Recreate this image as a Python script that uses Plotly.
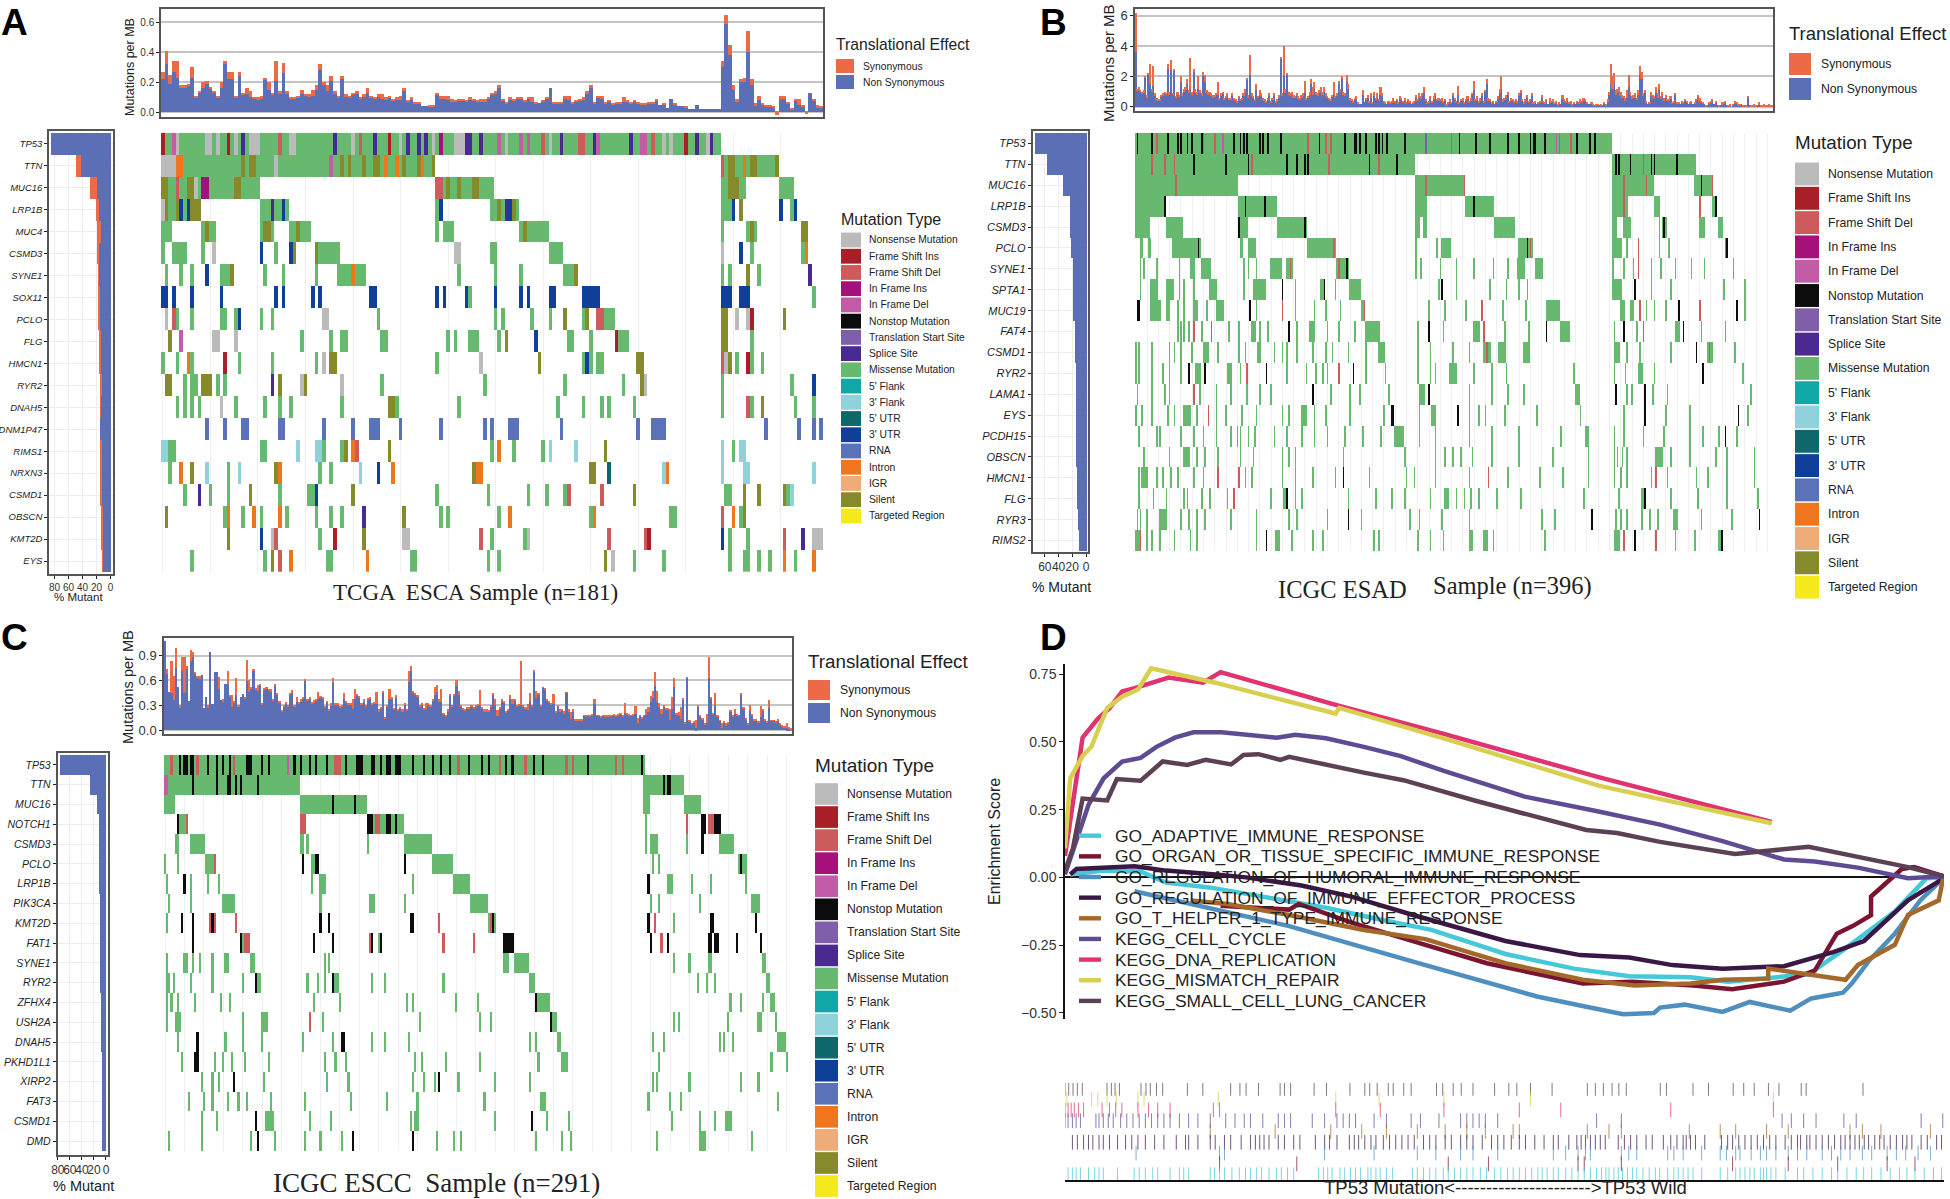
import re
import plotly.graph_objects as go

W, H = 1950, 1199
TYPES = ["Nonsense Mutation","Frame Shift Ins","Frame Shift Del","In Frame Ins","In Frame Del","Nonstop Mutation",
         "Translation Start Site","Splice Site","Missense Mutation","5' Flank","3' Flank","5' UTR","3' UTR","RNA",
         "Intron","IGR","Silent","Targeted Region"]
TYPE_CODES = "nidIDstpmfhwUrogST"
TYPE_COLORS = ["#BBBBBB","#A81F27","#CE5B5B","#A5107A","#C25CA6","#0C0C0C","#7F5FA9","#4A2A90","#67B96F","#12A7A7",
               "#8FD2DC","#0E676B","#0F3F99","#5A72B8","#F0761E","#EFAC78","#878A2B","#F6EA1E"]
BLUE, ORANGE = "#5B6FB6", "#EC6A45"

# ---------- Panel A ----------
A_TOTAL = [27,41,25,34,34,18,18,19,30,11,14,20,21,17,14,11,20,34,27,27,
 11,27,13,16,14,10,10,11,23,20,13,34,14,33,14,10,10,11,15,12,
 12,15,18,32,20,18,24,14,11,24,12,11,13,14,10,12,16,11,10,12,
 12,10,11,9,10,11,16,8,10,7,7,4,4,5,5,13,11,11,11,9,
 8,9,9,8,10,9,8,9,9,10,13,14,18,9,7,10,9,10,10,8,
 10,10,7,6,8,10,16,7,7,7,11,11,7,8,9,10,14,18,7,11,
 11,7,8,6,7,7,10,8,7,8,7,6,6,7,7,9,5,6,3,9,
 6,4,4,4,2,2,5,2,2,2,2,2,2,
 34,65,45,18,9,22,23,54,22,6,11,6,5,5,4,1,11,11,7,3,9,9,5,1,13,9,5,4]
A_SYN = [5,9,6,7,11,2,2,1,7,1,1,4,2,1,1,1,4,2,5,5,
 1,3,1,4,4,1,2,2,1,5,1,13,2,7,2,1,1,1,3,1,
 2,4,3,4,2,4,3,2,1,2,2,1,1,2,1,2,3,1,1,2,
 3,2,1,1,2,3,2,1,2,1,1,0,0,1,1,1,2,2,3,2,
 1,1,1,1,2,1,1,2,2,1,1,2,2,1,1,2,1,1,1,1,
 1,3,1,0,1,1,0,1,1,1,2,3,1,1,1,2,2,2,1,1,
 2,1,1,1,1,1,3,1,1,1,1,1,1,1,1,1,0,1,0,0,
 1,0,0,1,0,0,0,0,0,0,0,0,0,
 4,6,7,3,2,2,3,14,4,2,3,1,1,1,1,3,2,2,1,1,1,4,1,2,0,1,2,1]
A_GENES = ["TP53","TTN","MUC16","LRP1B","MUC4","CSMD3","SYNE1","SOX11","PCLO","FLG","HMCN1","RYR2","DNAH5","DNM1P47",
           "RIMS1","NRXN3","CSMD1","OBSCN","KMT2D","EYS"]
A_PCT = [85,50,29,21,20,19,18,17,17,16,16,15,15,15,14,14,14,13,13,12]
A_PCT_SYN = [0,8,10,5,6,2,1,1,1,1,1,2,1,0,1,1,1,1,1,1]
A_ROWS = [
 "0-152m 0i 3D 4n 12-13n 15n 18i 20n 22p 24-25n 26n 32d 35n 36n 47p 52n 54d 58p 62i 65n 67p 70p 72p 74n 76I 80-82n 83-84p 87p 92D 94n 98D 100D 104d 106n 109p 114-115d 118p 119D 128p 131-132D 134d 137n 139n 143i 146p 149n 150p",
 "0-74m 0-3n 4-5o 22S 24S 25S 31n 46D 49S 51S 55S 58-59S 61o 64o 66S 70S 71o 74S 153-168m 153d 155-156S 159o 161-162S 168S",
 "0-26m 0-1S 4d 7-8S 9n 11-12I 20-21S 75-90m 75-76d 78S 81S 85-86S 153-159m 155-157S 169-172m",
 "0n 1S 2-3m 4S 5U 6m 7U 8-10S 27-34m 30p 33U 75m 76U 90-97m 92S 94p 95U 96S 153-156m 156U 158S 169U 172m 173U",
 "0-2m 11-14m 12S 27-30m 28-29S 35-40m 37S 75m 77-79m 98-105m 99S 153m 160-162m 161S 175-176S",
 "0m 3-6m 11m 14n 27U 31m 35U 36S 42-48m 42S 80-81n 90-91m 106-109m 153n 158U 161m 175m 176o",
 "1m 5m 8m 12U 16-19m 19S 28m 33m 42m 48-55m 52o 81m 91m 98m 110-113m 113S 153m 155m 160S 163m 177p",
 "0-1U 3U 8U 16U 31U 33U 41U 43U 57-58U 75U 77U 83U 84m 91U 98U 100U 106-107U 115-119U 153-155U 158-160U 178m",
 "1n 3d 4m 8m 16-17m 20m 21U 27m 30m 44-45n 59m 91m 93m 101m 106m 110S 115m 116S 119-120d 121-123m 153-154S 157n 160n 161i 170S",
 "2S 5D 14-15n 20n 38m 46m 49-50m 60-61m 78m 80m 84-86m 92m 94S 102U 111-112m 117m 124i 125-127m 153-154S 161m",
 "0m 4m 7o 8m 17i 21m 30m 42m 44n 46-47S 75m 87n 103S 115m 116U 117m 119-120m 130-131S 153d 154n 155S 157m 160i 161m 164m",
 "1-2S 6m 8m 9m 11-13S 15m 17m 30p 32S 38n 39S 49n 60m 88m 110m 126m 131S 132n 153m 172m 178U",
 "4m 6m 8m 10m 16n 20m 28m 32m 35m 49m 62-63S 64m 81m 108m 115m 120m 122m 129m 153m 160d 161m 164S 173m 178m",
 "12r 17r 22-23r 32-33r 44r 52r 57-59r 65r 76r 88r 90r 95-97r 109r 130r 134-137r 165r 174r 178r 180r",
 "0-1h 2-3m 27-28m 37h 42-43h 44m 49m 50S 52o 53d 62S 90m 92o 96m 104m 106h 113h 121S 153h 156m 158-159h",
 "2m 5o 8S 12h 18m 21h 31S 32o 43m 46m 54h 59U 63o 85S 86-87o 117-118S 122w 137h 138o 153h 159-160h 178h",
 "6m 10p 13m 18m 24S 32m 40m 42U 41m 52S 75m 89m 100m 105m 110m 111d 120d 129S 154-155m 159S 163S 170S 171m 172h",
 "1S 18o 17m 22m 25o 27m 32o 34m 42m 46m 49m 55p 66S 76m 78m 92m 95o 117m 118o 139-140m 153d 156o 158m 159S",
 "18S 27U 30n 31d 43m 47i 55S 66-67n 87d 90m 99m 100n 122d 132d 133i 153U 155m 160m 170d 175p 178-180n",
 "8m 28m 30S 32d 35o 45-46m 56o 68-69m 89m 92m 121S 123n 129m 137m 155m 159-160m 163m 166m 170o 173m 178o",
]

# ---------- Panel B ----------
B_TOTAL = [62,12,13,11,10,11,20,8,22,28,12,27,9,6,5,5,8,9,10,9,
 28,10,31,9,25,7,10,8,20,9,12,13,18,11,32,10,25,12,10,20,
 11,9,23,21,11,10,10,9,8,8,9,16,6,9,10,6,7,9,6,6,
 9,6,5,4,7,5,6,9,12,19,8,34,9,7,5,15,7,11,9,6,
 5,4,6,9,4,6,9,4,5,8,33,9,40,12,22,10,9,10,8,7,
 9,7,6,8,9,17,6,7,10,18,13,16,10,9,11,13,10,13,9,7,
 6,5,8,16,7,9,17,12,20,10,9,21,15,6,5,4,6,7,3,2,
 2,11,3,6,8,4,9,3,10,6,9,5,13,9,4,3,2,4,3,4,
 6,4,5,3,7,6,4,6,3,5,4,2,3,4,8,5,9,7,9,13,
 5,3,4,7,4,7,9,5,6,5,6,4,5,2,3,5,3,9,6,4,
 14,3,5,6,3,5,7,4,6,9,17,5,7,4,6,9,4,11,18,6,
 5,3,4,2,4,7,12,20,5,6,8,10,4,6,5,4,5,4,9,11,
 5,3,5,8,4,5,9,3,4,2,3,4,8,4,3,5,2,6,4,5,
 3,4,2,3,2,8,5,4,6,3,4,2,3,2,4,3,5,4,6,5,
 3,2,2,3,2,1,2,2,1,2,1,3,2,5,10,28,20,22,11,12,
 13,10,8,7,6,11,21,10,7,8,9,6,11,27,23,9,11,4,2,3,
 10,8,7,13,9,15,7,10,6,8,5,5,7,3,4,9,3,3,2,4,
 3,5,4,2,3,4,2,3,5,8,6,4,3,2,1,1,3,4,5,2,
 4,1,1,1,3,3,4,1,1,2,0,2,4,3,2,2,2,1,1,1,
 7,1,1,1,2,1,1,3,1,1,2,1,1,2,1,1]
B_SYN = [26,1,2,1,1,2,1,2,1,13,2,13,2,1,1,1,1,2,1,1,
 3,2,7,1,1,1,2,1,4,2,2,2,3,2,20,2,2,3,2,8,
 2,2,3,5,2,2,1,2,2,1,1,8,1,2,1,1,1,2,1,1,
 2,1,1,1,1,1,1,2,3,1,2,13,2,1,1,4,1,3,2,1,
 1,1,1,2,1,1,2,1,1,2,1,2,20,3,1,2,2,2,2,1,
 2,2,1,2,2,8,1,1,2,3,5,4,2,2,2,3,2,3,2,1,
 1,1,1,8,1,2,2,2,2,2,2,5,3,1,1,1,1,2,1,0,
 0,3,0,1,2,1,3,1,3,1,3,1,5,2,1,1,0,1,1,1,
 2,1,1,1,2,1,1,2,1,1,1,0,1,1,2,1,3,2,2,4,
 1,1,1,2,1,2,2,1,1,1,2,1,1,1,1,2,1,2,1,1,
 6,1,1,2,1,1,2,1,2,1,6,1,2,1,2,2,1,1,3,2,
 1,1,1,0,1,2,3,8,2,1,2,2,1,2,1,1,1,1,2,2,
 1,1,2,2,1,1,2,1,1,0,1,1,2,1,1,2,0,3,1,2,
 1,2,1,1,0,3,2,1,2,1,2,1,1,0,1,1,2,1,2,1,
 1,0,0,1,1,0,1,1,0,1,0,1,1,2,2,13,8,6,3,3,
 3,3,2,1,2,5,8,2,2,2,3,1,3,6,5,2,2,1,0,1,
 3,2,2,4,3,4,2,3,2,2,1,1,2,1,1,1,1,1,0,1,
 1,1,1,0,1,1,0,1,1,1,2,1,1,0,1,0,1,1,1,0,
 1,0,1,0,2,1,1,0,1,1,0,1,1,1,1,1,0,1,0,1,
 1,0,1,1,1,1,0,2,1,1,2,1,1,2,1,1]
B_GENES = ["TP53","TTN","MUC16","LRP1B","CSMD3","PCLO","SYNE1","SPTA1","MUC19","FAT4","CSMD1","RYR2","LAMA1","EYS",
           "PCDH15","OBSCN","HMCN1","FLG","RYR3","RIMS2"]
B_PCT = [75,57,34,24,24,22,19,19,19,17,17,16,16,15,15,15,14,14,13,11]
B_PCT_SYN = [0,0,0,0,0,0,0,0,0,0,0,0,0,0,0,0,0,0,0,0]
B_ROWS = [
 "0-295m 1s 10s 13d 20s 26s 28s 32s 35s 41s 42d 49d 54D 61s 65s 67s 69s 77s 79s 82s 90s 107d 114s 118d 121d 130s 136-137s 139s 143s 149s 151s 153s 156s 167s 180t 196d 201s 211s 220s 231s 238s 245s 247-248s 254s 261D 263d 270d 274s 282s 285s",
 "0-173m 10d 18d 24d 36s 56s 70s 72d 94s 100s 105s 107s 120d 145s 151d 162s 296-347m 298s 300s 307s 315d 320s 322s 336s",
 "0-63m 25d 174-204m 180d 204d 296-321m 303d 317d 347-358m 351s 358d",
 "0-18m 18s 64-87m 68s 80s 174-180m 205-222m 210s 296-305m 303d 322-325m 350d 358-360m 360s",
 "0-8m 19-29m 64-69m 64s 88-106m 105s 174-176m 179-180m 223-235m 296-298m 303-307m 325m 327-329m 328s 350-353m 362-364m",
 "3-4m 8-9m 23-29m 30-40m 39s 65-66m 70-74m 107-124m 123d 174m 187m 190-195m 238-246m 243s 245d 296-301m 305m 312d 325m 331m 367s 366d",
 "3 5 13 27 34-36 41-46 67 70 75 84-90 94-97 96d 125-132 126d 131s 174 177 189 199 210 222 231 237-241 248-252 296 303 309 312d 320 326 335 345 353 371",
 "3 9-13 19-23 27 30 36 46-50 67 73-80 91s 99 115-117 117s 124 133-139 188 190s 199 220 230 238 243 296-301 310s 320 332 365 378",
 "1-2s 9-15 19-21 26 30 36-38 44 50-54 71s 75 91d 99 111 118 127 140-142 142d 182 192 205 215d 228 242 255-263 301-303 307-309 313d 317 322 329 337s 350d 373s 378",
 "26 28 30 33 36d 41 47d 58 64 72-74 77 82 95s 100 108-111 119 126 136 143-151 175 182s 191 210-213 216d 229 244 255s 264-269 297 303s 311 315d 335-337 340s 351 366",
 "0 2 10 21 24 28 35 42-45 51 64 68 76 77 86 91 94 100 110 118 122 132 143 151-154 175 183 197 207 216-220 218d 225-229 241-244 297-300 305 313 332 348s 355-358 356d 372",
 "0 2 10 17 21 28 33s 37-40 43s 57-59 65 69d 81s 94 106 112 116 119 126d 135s 143 155 175 183 186 195-199 210 221 230 272 297 304 312-314 322 352s 377",
 "1 10 18 21 36d 40 50 59 69 77 84 110s 121 133 139 157 176-179 182s 207 221 231 241 273-275 298s 305 308 316s 321 330 382",
 "0 4 10 20 24 30-33 34 38 45d 50 56 66 75 91 95 103-106 111 118 133 154 159-160s 176 184-186 200s 207 213 217 229 249 276 303 316s 329 344 374s 380",
 "2 13 15 28 36 42 50 59 63 65 70 74 86 94 103 111 119 130 141 152 161-166 176 186 207 221 238 264 279-281 297 303 315 328 344 352 362 366s 373",
 "5 21 30-33 38 43 51 65 73 91 95 99 129 167 186 192 197 202 209 221 238 259 281 297 299 302 305 323-327 332 344 360 367 384",
 "2 4-7 13 17 22 26 36 42 51d 64d 68 72 91 99 110 124 129s 145 168 173 186 207 219d 231 251 265 281 297 301 305 320 323d 330 348 355 367 384",
 "2 11 19 30 32 41 46 57 61d 84 92-93 94s 99 103 132 149 159 167 183 192-194 199 204 208 213 224 239 278 300 314-315 316s 332 349 367 386",
 "1 3 7 15-19 28 33 38 43 59 75 95 100 119 132s 140 170 176 190 207 252 260 283s 298 301 305 314 319 324 334-336 351 370 387s",
 "0-3 3d 7 10 15 24 34 38 75 81s 87-89 97 110 116 148 151 175 183 191 207-209 216-218 222 254 297-300 303d 310s 323d 335 347 362-363 364s",
]

# ---------- Panel C ----------
C_TOTAL = [108,74,46,84,66,99,52,30,89,89,77,35,97,94,70,66,65,67,27,40,
 30,95,32,70,70,64,36,37,56,72,42,42,34,63,30,40,44,39,85,60,
 52,74,50,55,55,33,50,52,50,50,38,55,45,34,24,30,33,30,45,48,
 30,40,33,37,40,62,38,40,33,36,38,46,40,40,28,35,25,33,63,33,
 33,28,30,45,35,33,32,38,50,44,40,33,37,30,38,40,32,33,46,25,
 27,47,15,30,50,40,27,42,25,28,25,33,25,72,77,47,45,42,30,33,
 26,33,33,30,38,52,54,38,50,20,17,25,44,30,44,61,47,30,27,25,
 27,28,30,28,
 30,32,48,28,25,25,24,30,45,38,24,28,37,35,22,25,42,38,38,30,
 32,84,30,28,32,45,30,72,47,45,30,52,50,38,35,33,44,22,30,25,
 25,23,46,25,22,25,13,13,13,13,18,18,18,18,20,38,18,18,17,18,
 17,18,17,18,19,18,19,20,18,33,20,20,18,19,29,14,18,16,18,26,
 28,41,47,70,47,33,25,30,27,27,25,40,63,20,22,28,38,10,64,12,
 8,10,12,30,18,15,8,20,88,40,20,45,18,12,8,10,8,10,24,18,
 26,20,18,45,27,15,8,30,20,13,13,10,29,25,13,10,36,12,12,10,
 13,8,6,4,8,3,2]
C_SYN = [0,6,0,39,30,24,0,3,17,44,2,0,13,6,2,2,3,0,0,0,
 3,0,0,0,0,14,0,2,0,16,2,14,1,21,1,0,0,1,26,14,
 2,3,1,8,1,2,1,2,3,4,2,1,2,1,1,2,1,1,2,2,
 2,6,1,2,2,3,2,2,1,3,2,8,1,2,1,2,1,4,6,2,
 2,1,1,7,2,2,1,12,13,3,1,2,2,1,1,3,1,1,15,2,
 1,2,1,2,13,2,2,3,1,2,2,2,1,14,5,2,3,2,1,2,
 1,8,3,2,3,9,8,4,16,1,1,2,3,1,3,8,5,2,2,1,
 1,2,1,2,
 1,3,18,3,2,2,2,1,2,8,7,2,3,2,1,1,4,6,3,2,
 2,54,1,2,8,10,1,1,8,2,2,1,1,2,2,2,13,1,2,3,
 1,3,1,3,9,2,1,1,1,1,1,2,1,2,2,6,1,1,2,1,
 1,2,1,1,2,2,1,1,2,12,1,2,1,2,10,6,1,2,1,8,
 6,7,8,17,13,5,6,2,3,2,13,14,11,1,5,15,1,2,1,2,
 1,1,10,1,2,3,1,12,25,3,1,15,2,1,5,1,2,3,1,2,
 7,3,1,3,1,3,1,7,3,1,2,1,13,1,1,1,9,1,1,1,
 1,1,2,1,6,1,2]
C_GENES = ["TP53","TTN","MUC16","NOTCH1","CSMD3","PCLO","LRP1B","PIK3CA","KMT2D","FAT1","SYNE1","RYR2","ZFHX4","USH2A",
           "DNAH5","PKHD1L1","XIRP2","FAT3","CSMD1","DMD"]
C_PCT = [77,28,15,13,13,12,12,11,11,11,10,10,9,9,9,8,8,8,7,7]
C_PCT_SYN = [0,0,0,0,0,0,0,0,0,0,0,0,0,0,0,0,0,0,0,0]
C_ROWS = [
 "0-222m 3d 7s 9-10s 12-13s 15d 20s 24s 27s 30s 32d 38-40s 45s 48s 57D 60s 63s 67s 70s 75s 79-81d 84s 89-91s 96-97s 100s 103-104s 107-109s 115s 120s 124s 128s 132s 136d 141s 147s 150s 155d 158s 161s 167d 171s 175s 186d 189d 196s 209d 212d 221s",
 "0-62m 0-1D 13s 24s 29-30s 33s 35s 43s 222-240m 231s 233-234s",
 "0-4m 63-93m 78s 88s 222-224m 241-248m",
 "6s 7-9m 10d 63-65d 94-96s 97-102m 98-99d 103-104s 105-106m 107s 108-110m 223m 242d 249-250s 252-254d 255-257s",
 "5-6m 12-18m 63-64m 66m 94m 111-123m 223m 225-228m 242m 249s 257-263m",
 "0m 6m 19-23m 23d 64s 68-71m 70-71s 111s 124-133m 226m 229m 266-269m 267s",
 "1m 9s 12m 20m 25m 68m 72-74m 115m 134-141m 224s 233-235m 244m 253m 269m",
 "2m 12m 27-32m 72m 95-97m 111m 142-149m 225m 229m 248m 272-275m",
 "1m 8s 13s 21-23d 22s 33d 72s 76s 114-115s 127d 150-153m 151d 152s 224s 227d 236m 253-254s 274s",
 "13s 35s 36m 37-39d 69s 78s 95d 96s 99m 100s 129d 143d 157-161s 225s 230d 233s 252-253s 255-256s 265s 276s",
 "1 9-10 13 16 22 28-29 40-41 74 76 157-159 162-168 236 243 252-253 277-278",
 "1-2 4 12 22 36 42-44 42s 66 71 74 78-80 78s 96 102 129 169-171 247 251 255 279-280",
 "1 3 6 14 26 30 69 81 112 115 135 145 172s 173-178 262 267 277 281-282",
 "1 5-7 36 45-47 67d 73 118 146 151 179-181 179s 236 238 261 275-276 283",
 "6 15s 28 36 45 64 78 82-83s 96 102 113 169 172 182-183 226 231 257 259 263 284-287",
 "8 14-15s 23 27 31 37 48 74 79 84 116 119 130 146 173 184-186 229 281 288",
 "17 22 25 32s 46 75 85 115 120 125 127s 136 153 169 226 228 243 267 275",
 "11 18 22 29 34 38 49 65 86 103 117 148 174-176 224 234 239 284",
 "17 24 42s 47 48-50 67 77 114 116 117 153 170s 177 187 235 248 255 260-262",
 "2 17 40 43s 51 65 72 82 87s 115s 126 134 137 172 184 188 228 248-250 272",
]

# ---------- Panel D ----------
PATHWAYS = ["GO_ADAPTIVE_IMMUNE_RESPONSE","GO_ORGAN_OR_TISSUE_SPECIFIC_IMMUNE_RESPONSE","GO_REGULATION_OF_HUMORAL_IMMUNE_RESPONSE",
            "GO_REGULATION_OF_IMMUNE_EFFECTOR_PROCESS","GO_T_HELPER_1_TYPE_IMMUNE_RESPONSE","KEGG_CELL_CYCLE","KEGG_DNA_REPLICATION",
            "KEGG_MISMATCH_REPAIR","KEGG_SMALL_CELL_LUNG_CANCER"]
PATH_COLORS = ["#45C8D8","#7A1431","#4F8FC0","#3B1746","#A4692A","#5E4B94","#E0336F","#D8CF50","#5C4156"]
ADAPTIVE_X = [.6,4.4,8.6,11.5,16.4,23.4,29.7,35.4,41.7,50.1,57.9,64.2,71.2,75.4,84.6,88.8,94.4,98,100]
ADAPTIVE_Y = [.011,.025,.022,-.019,-.037,-.078,-.112,-.153,-.194,-.283,-.337,-.365,-.369,-.385,-.358,-.262,-.126,-.003,0]
ORGAN_X = [17.7,25.5,26.6,32.6,41,48,58.9,64.5,71.5,75.9,81.8,85.3,87.8,89.6,91.7,91.7,95.2,96.6,100]
ORGAN_Y = [-.105,-.119,-.098,-.167,-.249,-.317,-.392,-.385,-.399,-.413,-.385,-.344,-.208,-.18,-.14,-.071,.031,.038,.004]
HUMORAL_X = [7.9,13.6,25.5,41,53.7,59.3,63.5,67,67.7,70.5,74.8,77.9,82.5,84.9,88.5,89.5,91.6,94.4,97.3,100]
HUMORAL_Y = [-.051,-.092,-.18,-.324,-.44,-.478,-.505,-.501,-.481,-.47,-.497,-.46,-.492,-.447,-.426,-.392,-.303,-.208,-.085,0]
EFFECTOR_X = [.6,1.3,7.9,11.5,17.1,20.6,26.9,32.6,39.6,50.1,58.6,64.2,69.1,74.8,81.8,87.4,90.9,95.9,100]
EFFECTOR_Y = [.011,.031,.041,.025,.011,0,-.03,-.071,-.139,-.235,-.287,-.296,-.324,-.337,-.328,-.276,-.235,-.085,-.003]
THELPER_X = [14.3,18.5,25.5,34,41,50.1,58.9,64.8,71.2,74.8,80,80,88.8,90.2,94.4,95.9,99.4,99.9]
THELPER_Y = [-.085,-.098,-.139,-.194,-.228,-.317,-.378,-.399,-.392,-.378,-.374,-.337,-.378,-.324,-.249,-.139,-.085,-.003]
CELL_X = [0,2.7,4.4,6.5,8.6,10.4,12.5,14.6,17.8,21.3,24.1,26.2,29.7,34,38.2,43.1,52.3,60.7,67.7,74.8,81.8,85.3,90.2,95.9,100]
CELL_Y = [.011,.27,.366,.428,.441,.482,.516,.536,.536,.527,.516,.527,.514,.482,.448,.393,.298,.243,.195,.134,.066,.059,.036,-.003,.004]
DNA_X = [0,.9,2,3.7,5.1,6.5,8,11.8,15.7,17.7,30.8,43.1,60.7,80.4]
DNA_Y = [.079,.27,.516,.585,.626,.687,.70,.738,.719,.758,.637,.53,.37,.205]
MISMATCH_X = [0,.6,2,3,4.8,6.5,8.3,9.8,17.1,30.8,31.2,42.8,60.7,80.4]
MISMATCH_Y = [.107,.366,.448,.482,.626,.667,.694,.772,.719,.605,.626,.516,.339,.2]
SCLC_X = [0,.9,2,4.8,5.9,8.6,11.1,13.9,16,18.9,20.3,22,24.5,25.5,34,38.5,46.6,59.3,62.8,67.7,76.2,81.1,84.6,95.9,100]
SCLC_Y = [.025,.107,.291,.284,.363,.357,.428,.415,.434,.417,.452,.455,.434,.445,.387,.359,.284,.175,.164,.131,.086,.1,.113,.038,.004]

RUG_SCLC = [0,6,13,20,28,68,75,81,88,123,131,138,148,158,198,223,268,283,293,313,348,355,365,403,423,461,485,493,505,523,531,548,560,601,611,628,641,660,695,718,731,753,788,845,858,871,885,896,908,963,973,1016,1041,1081,1098,1115,1138,1155,1191,1199,1291]
RUG_MISMATCH = [3,43,53,68,83,118,128,248,438,508,613,753,1146]
RUG_DNA = [0,5,10,15,22,30,60,72,82,92,118,135,150,170,240,250,438,510,613,735,802,980,1146]
RUG_CELL = [0,5,12,18,25,50,55,62,70,78,90,100,110,120,130,140,150,160,170,185,200,215,235,260,275,290,300,320,345,355,365,400,420,440,450,460,470,500,520,560,575,605,640,650,660,670,680,700,860,900,1160,1175,1195,1215,1260,1280,1385,1420]
RUG_THELPER = [235,340,430,480,520,570,615,650,680,725,735,845,880,900,1010,1060,1085,1135,1170,1270,1290,1320,1400]
RUG_EFFECTOR = [12,20,30,38,45,55,62,72,85,98,108,118,130,145,160,180,195,200,215,235,243,258,268,285,300,308,315,322,330,345,355,370,380,405,420,428,440,460,468,475,485,495,503,515,525,535,545,555,565,580,590,600,615,625,640,650,660,675,690,700,710,722,735,745,760,775,790,798,815,828,835,842,850,858,866,874,895,905,915,925,940,950,968,980,990,1000,1005,1012,1020,1035,1062,1072,1080,1090,1100,1110,1120,1130,1140,1150,1165,1175,1185,1190,1200,1205,1215,1225,1235,1245,1255,1262,1270,1278,1285,1293,1300,1310,1318,1325,1335,1345,1355,1362,1370,1385,1395,1410,1418]
RUG_HUMORAL = [115,250,258,420,500,570,600,640,660,700,790,810,830,842,850,900,912,925,975,985,1000,1030,1060,1070,1085,1092,1110,1125,1135,1150,1170,1185,1200,1225,1240,1255,1270,1290,1305,1330,1345,1360,1380,1400]
RUG_ORGAN = [250,375,620,685,830,840,900,1080,1170,1250,1330,1375]
RUG_ADAPTIVE = [5,12,18,25,38,48,55,62,85,112,120,130,142,150,170,185,192,200,235,242,250,258,270,282,292,300,310,318,330,342,350,360,370,410,418,425,432,445,452,462,470,478,490,495,503,510,520,530,562,570,580,590,600,612,620,630,640,650,660,672,682,695,705,716,725,735,745,755,765,772,780,790,798,810,820,830,840,850,860,868,875,880,888,895,902,910,918,925,935,945,955,962,975,985,992,1000,1008,1016,1030,1060,1072,1085,1092,1100,1108,1115,1125,1130,1135,1142,1150,1165,1185,1195,1210,1225,1240,1250,1265,1280,1292,1305,1320,1335,1350,1362,1375,1390,1405,1418]

# ---------- helpers ----------
FONT = "Liberation Sans"
fig = go.Figure()
layout = {}
shapes, annots = [], []
ax_n = [0]

def dx(a, b): return [a / W, b / W]
def dy(t, b): return [1 - b / H, 1 - t / H]

def new_axes(xd, yd, xa, ya):
    ax_n[0] += 1
    n = ax_n[0]
    sx = "" if n == 1 else str(n)
    layout["xaxis" + sx] = dict(domain=xd, anchor="y" + sx, automargin=False, tickangle=0, **xa)
    layout["yaxis" + sx] = dict(domain=yd, anchor="x" + sx, automargin=False, **ya)
    return "x" + sx, "y" + sx

def text(x, y, s, size, anchor="left", family=FONT, angle=0, color="#222222", weight=None):
    annots.append(dict(xref="paper", yref="paper", x=x / W, y=1 - y / H, text=s, showarrow=False, xanchor=anchor,
                       yanchor="middle", textangle=angle, font=dict(family=family, size=size, color=color,
                       weight=weight if weight else "normal"), borderpad=0, borderwidth=0))

def swatch(x0, y0, x1, y1, color):
    shapes.append(dict(type="rect", xref="paper", yref="paper", x0=x0 / W, x1=x1 / W, y0=1 - y0 / H, y1=1 - y1 / H,
                       fillcolor=color, line=dict(width=0), layer="above"))

def parse_row(row, n):
    cells = [None] * n
    for a, b, c in re.findall(r"(\d+)(?:-(\d+))?([a-zA-Z]?)", row):
        code = TYPE_CODES.index(c) if c else TYPE_CODES.index("m")
        for i in range(int(a), int(b or a) + 1):
            if i < n:
                cells[i] = code
    return cells

STEP = []
for i, c in enumerate(TYPE_COLORS):
    STEP += [[i / len(TYPE_COLORS), c], [(i + 1) / len(TYPE_COLORS), c]]

FRAME = dict(showline=True, mirror=True, linecolor="#555555", linewidth=1.5)

def onco_panel(total, syn, genes, pct, pct_syn, rows, scale, p):
    n = len(total)
    non = [(t - s) * scale for t, s in zip(total, syn)]
    syn_v = [s * scale for s in syn]
    idx = list(range(n))
    # top bars
    xa, ya = new_axes(dx(*p["top_x"]), dy(*p["top_y"]),
        dict(range=[-0.5, n - 0.5], showticklabels=False, ticks="", showgrid=False, zeroline=False, **FRAME),
        dict(range=p["top_range"], tickvals=p["top_ticks"], ticktext=p["top_text"], ticks="outside", ticklen=3,
             tickcolor="#222", tickfont=dict(family=FONT, size=p["tick"], color="#333"), showgrid=True,
             gridcolor="#C4C4C4", gridwidth=1.5, zeroline=False, **FRAME))
    fig.add_bar(x=idx, y=non, xaxis=xa, yaxis=ya, marker=dict(color=BLUE, line=dict(width=0)), width=1, name="Non Synonymous", showlegend=False)
    fig.add_bar(x=idx, y=syn_v, xaxis=xa, yaxis=ya, marker=dict(color=ORANGE, line=dict(width=0)), width=1, name="Synonymous", showlegend=False)
    # left bars
    rowpx = (p["heat_y"][1] - p["heat_y"][0]) / 20
    pad_t = (p["heat_y"][0] - p["left_y"][0]) / rowpx
    pad_b = (p["left_y"][1] - p["heat_y"][1]) / rowpx
    ypos = list(range(20))
    xa, ya = new_axes(dx(*p["left_x"]), dy(*p["left_y"]),
        dict(range=p["left_range"], tickvals=[80, 60, 40, 20, 0] if p["left_range"][0] >= 80 else [60, 40, 20, 0],
             ticks="outside", ticklen=3, tickcolor="#222", tickfont=dict(family=FONT, size=p["left_tick"], color="#333"),
             showgrid=True, gridcolor="#EDEDED", zeroline=False, **FRAME),
        dict(range=[19.5 + pad_b, -0.5 - pad_t], tickvals=ypos, ticktext=["<i>%s</i>" % g for g in genes], ticks="outside",
             ticklen=3, tickcolor="#222", tickfont=dict(family=FONT, size=p["gene"], color="#222"),
             showgrid=True, gridcolor="#EDEDED", zeroline=False, **FRAME))
    fig.add_bar(y=ypos, x=[a - b for a, b in zip(pct, pct_syn)], orientation="h", xaxis=xa, yaxis=ya, width=1,
                marker=dict(color=BLUE, line=dict(width=0)), showlegend=False)
    fig.add_bar(y=ypos, x=pct_syn, orientation="h", xaxis=xa, yaxis=ya, width=1,
                marker=dict(color=ORANGE, line=dict(width=0)), showlegend=False)
    # heatmap
    xa, ya = new_axes(dx(*p["heat_x"]), dy(*p["heat_y"]),
        dict(range=[-0.5, n - 0.5], showticklabels=False, ticks="", showgrid=True, gridcolor="#EFEFEF", gridwidth=1,
             tick0=0, dtick=p["vgrid"], zeroline=False, showline=False),
        dict(range=[19.5, -0.5], showticklabels=False, ticks="", showgrid=False, zeroline=False, showline=False))
    z = [parse_row(r, n) for r in rows]
    fig.add_heatmap(x=idx, y=ypos, z=z, xaxis=xa, yaxis=ya, zmin=0, zmax=len(TYPES), colorscale=STEP, showscale=False,
                    hoverongaps=False)
    # translational legend
    lg = p["tl"]
    text(lg["x"], lg["ty"], "Translational Effect", lg["tsize"])
    for (label, col), yy in zip([("Synonymous", ORANGE), ("Non Synonymous", BLUE)], lg["ys"]):
        swatch(lg["x"], yy - lg["h"] / 2, lg["x"] + lg["w"], yy + lg["h"] / 2, col)
        text(lg["tx"], yy, label, lg["size"])
    # mutation legend
    lg = p["ml"]
    text(lg["x"], lg["ty"], "Mutation Type", lg["tsize"])
    for i, (label, col) in enumerate(zip(TYPES, TYPE_COLORS)):
        yy = lg["y0"] + i * lg["step"]
        swatch(lg["x"], yy - lg["step"] / 2 + 0.7, lg["x"] + lg["w"], yy + lg["step"] / 2 - 0.7, col)
        text(lg["tx"], yy, label, lg["size"])

onco_panel(A_TOTAL, A_SYN, A_GENES, A_PCT, A_PCT_SYN, A_ROWS, 0.01, dict(
    top_x=(161, 823), top_y=(9, 117), top_range=[-0.031, 0.689], top_ticks=[0, .2, .4, .6], top_text=["0.0", "0.2", "0.4", "0.6"], tick=10,
    left_x=(49, 113), left_y=(131, 574), left_range=[88, -3.4], left_tick=10, gene=9.5,
    heat_x=(161, 823), heat_y=(132.7, 572), vgrid=13,
    tl=dict(x=836, ty=45, tsize=15.7, ys=(66, 82), w=18, h=14, tx=863, size=10.3),
    ml=dict(x=841, ty=219, tsize=16, y0=240, step=16.23, w=20, tx=869, size=10.3)))
onco_panel(B_TOTAL, B_SYN, B_GENES, B_PCT, B_PCT_SYN, B_ROWS, 0.1, dict(
    top_x=(1135, 1773), top_y=(9, 111), top_range=[-0.28, 6.44], top_ticks=[0, 2, 4, 6], top_text=["0", "2", "4", "6"], tick=13,
    left_x=(1032.5, 1088), left_y=(131, 552), left_range=[78, -2.9], left_tick=12, gene=11,
    heat_x=(1135, 1773), heat_y=(133, 551), vgrid=7,
    tl=dict(x=1789, ty=33, tsize=18.5, ys=(64, 89), w=22, h=22, tx=1821, size=12.2),
    ml=dict(x=1795, ty=143, tsize=18.8, y0=174, step=24.3, w=24, tx=1828, size=12.2)))
onco_panel(C_TOTAL, C_SYN, C_GENES, C_PCT, C_PCT_SYN, C_ROWS, 0.01, dict(
    top_x=(164, 792), top_y=(638, 734), top_range=[-0.048, 1.114], top_ticks=[0, .3, .6, .9], top_text=["0.0", "0.3", "0.6", "0.9"], tick=13,
    left_x=(57.5, 107.5), left_y=(753, 1155), left_range=[80.5, -2.5], left_tick=12, gene=10.5,
    heat_x=(164, 792), heat_y=(755, 1151), vgrid=9,
    tl=dict(x=808, ty=661, tsize=18.8, ys=(690, 713), w=22, h=20, tx=840, size=12.2),
    ml=dict(x=815, ty=765, tsize=19, y0=794, step=23.06, w=23, tx=847, size=12.2)))

# panel D lines
xa, ya = new_axes(dx(1065, 1944), dy(664, 1019),
    dict(range=[0, 100], showticklabels=False, ticks="", showgrid=False, zeroline=False, showline=False),
    dict(range=[-0.523, 0.788], tickvals=[.75, .5, .25, 0, -.25, -.5], tickformat=".2f", ticks="outside", ticklen=4, tickcolor="#222",
         tickfont=dict(family=FONT, size=14, color="#333"), showline=True, linecolor="#111", linewidth=1.5, showgrid=False,
         zeroline=True, zerolinecolor="#111", zerolinewidth=2))
for name, col, xs, ys in zip(PATHWAYS, PATH_COLORS,
        [ADAPTIVE_X, ORGAN_X, HUMORAL_X, EFFECTOR_X, THELPER_X, CELL_X, DNA_X, MISMATCH_X, SCLC_X],
        [ADAPTIVE_Y, ORGAN_Y, HUMORAL_Y, EFFECTOR_Y, THELPER_Y, CELL_Y, DNA_Y, MISMATCH_Y, SCLC_Y]):
    fig.add_scatter(x=xs, y=ys, mode="lines", name=name, xaxis=xa, yaxis=ya, showlegend=False,
                    line=dict(color=col, width=4.5))
for i, (name, col) in enumerate(zip(PATHWAYS, PATH_COLORS)):
    yy = 835.7 + i * 20.65
    swatch(1079, yy - 2.2, 1101, yy + 2.2, col)
    text(1115, yy, name, 17.4)

# panel D rug
RUG_ROWS = [RUG_SCLC, RUG_MISMATCH, RUG_DNA, RUG_CELL, RUG_THELPER, RUG_EFFECTOR, RUG_HUMORAL, RUG_ORGAN, RUG_ADAPTIVE]
RUG_COLORS = [PATH_COLORS[8], PATH_COLORS[7], PATH_COLORS[6], PATH_COLORS[5], PATH_COLORS[4], PATH_COLORS[3], PATH_COLORS[2], PATH_COLORS[1], PATH_COLORS[0]]
xa, ya = new_axes(dx(1065, 1944), dy(1083, 1180),
    dict(range=[0, 1422], showticklabels=False, ticks="", showgrid=False, zeroline=False, showline=True, linecolor="#111", linewidth=2),
    dict(range=[8.5, -0.5], showticklabels=False, ticks="", showgrid=False, zeroline=False, showline=False))
for i, (vals, col) in enumerate(zip(RUG_ROWS, RUG_COLORS)):
    fig.add_scatter(x=vals, y=[i] * len(vals), mode="markers", xaxis=xa, yaxis=ya, showlegend=False,
                    marker=dict(symbol="line-ns", size=10.5, line=dict(color=col, width=0.9)), opacity=0.8)

# free text
for s, x, y in [("A", 1, 22), ("B", 1040, 22), ("C", 1, 637), ("D", 1040, 637)]:
    text(x, y, s, 37, family="Liberation Sans", color="#000000", weight="bold")
SERIF = "Liberation Serif"
text(475, 592, "TCGA  ESCA Sample (n=181)", 23, "center", SERIF)
text(1278, 589, "ICGC ESAD", 24.5, "left", SERIF)
text(1433, 586, "Sample (n=396)", 24.5, "left", SERIF)
text(436, 1183, "ICGC ESCC  Sample (n=291)", 27, "center", SERIF)
text(78, 597, "% Mutant", 11.5, "center")
text(1061, 587, "% Mutant", 14, "center")
text(83, 1186, "% Mutant", 14.5, "center")
text(130, 67, "Mutations per MB", 12.5, "center", angle=-90)
text(1109, 63, "Mutations per MB", 15, "center", angle=-90)
text(128, 687, "Mutations per MB", 14.5, "center", angle=-90)
text(994, 842, "Enrichment Score", 16, "center", angle=-90)
text(1505, 1187, "TP53 Mutation&lt;----------------------&gt;TP53 Wild", 18.5, "center")

fig.update_layout(width=W, height=H, margin=dict(l=0, r=0, t=0, b=0, autoexpand=False), paper_bgcolor="white", plot_bgcolor="white",
                  barmode="stack", bargap=0, showlegend=False, shapes=shapes, annotations=annots, **layout)
fig.write_html("out.html", config=dict(displayModeBar=False), post_script="document.body.style.margin='0';")
